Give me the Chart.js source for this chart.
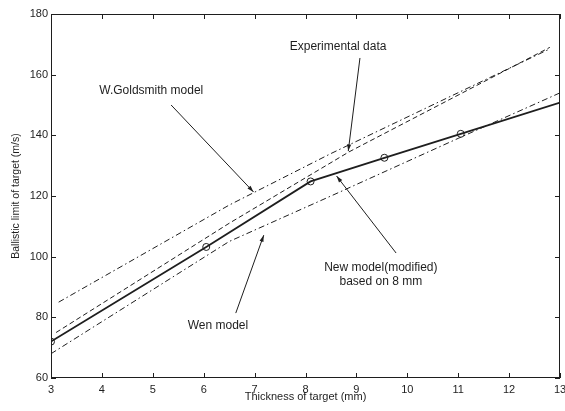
<!DOCTYPE html>
<html><head><meta charset="utf-8">
<script src="https://cdn.jsdelivr.net/npm/chart.js@4.4.0/dist/chart.umd.min.js"></script>
<style>html,body{margin:0;padding:0;background:#fff;}canvas{display:block}</style>
</head><body>
<canvas id="c" width="565" height="411"></canvas>
<script>
// ---- data ----
const xTickValues = [3, 4, 5, 6, 7, 8, 9, 10, 11, 12, 13];
const yTickValues = [60, 80, 100, 120, 140, 160, 180];
const newModelX = [3, 6.05, 8.1, 9.55, 11.05, 13];
const newModelY = [72, 103.2, 124.8, 132.6, 140.5, 150.8];
const newModelMarked = [true, true, true, true, true, false];
const experimentalX = [3.1, 6.5, 8.85, 12.8];
const experimentalY = [75, 111, 134.5, 169];
const goldsmithX = [3.15, 6.5, 8.5, 12.8];
const goldsmithY = [85, 117, 134, 168.5];
const wenX = [3, 6.5, 8.5, 11, 13];
const wenY = [68, 105, 120, 139, 154];
const xTitle = 'Thickness of target (mm)';
const yTitle = 'Ballistic limit of target (m/s)';

const pts = (xs, ys) => xs.map((x, i) => ({x: x, y: ys[i]}));
const INK = '#1e1e1e';
const FONT = '"Liberation Sans", Arial, sans-serif';

// annotations (text + arrows), positioned in data units
const notes = [
  {text: ['Experimental data'], at: [8.64, 169.1], arrow: [[9.07, 165.5], [8.84, 134.8]]},
  {text: ['W.Goldsmith model'], at: [4.97, 154.6], arrow: [[5.36, 150], [6.98, 121.3]]},
  {text: ['New model(modified)', 'based on 8 mm'], at: [9.48, 96.3], arrow: [[9.78, 101.2], [8.61, 126.6]]},
  {text: ['Wen model'], at: [6.28, 77.2], arrow: [[6.63, 81.4], [7.18, 107.1]]}
];

const framePlugin = {
  id: 'frame',
  afterDatasetsDraw(chart) {
    const {ctx, chartArea: a, scales: {x, y}} = chart;
    ctx.save();
    ctx.strokeStyle = INK;
    ctx.lineWidth = 1;
    ctx.strokeRect(Math.round(a.left) + 0.5, Math.round(a.top) + 0.5, Math.round(a.right - a.left) - 1, Math.round(a.bottom - a.top) - 1);
    const L = 5;
    ctx.beginPath();
    xTickValues.forEach(v => {
      const px = Math.round(x.getPixelForValue(v)) + 0.5;
      ctx.moveTo(px, a.bottom); ctx.lineTo(px, a.bottom - L);
      ctx.moveTo(px, a.top); ctx.lineTo(px, a.top + L);
    });
    yTickValues.forEach(v => {
      const py = Math.round(y.getPixelForValue(v)) + 0.5;
      ctx.moveTo(a.left, py); ctx.lineTo(a.left + L, py);
      ctx.moveTo(a.right, py); ctx.lineTo(a.right - L, py);
    });
    ctx.stroke();
    // annotations
    ctx.fillStyle = INK;
    ctx.font = '12px ' + FONT;
    ctx.textAlign = 'center';
    ctx.textBaseline = 'middle';
    notes.forEach(n => {
      const cx = x.getPixelForValue(n.at[0]);
      const cy = y.getPixelForValue(n.at[1]);
      n.text.forEach((t, i) => ctx.fillText(t, cx, cy + i * 13.5));
      const x0 = x.getPixelForValue(n.arrow[0][0]), y0 = y.getPixelForValue(n.arrow[0][1]);
      const x1 = x.getPixelForValue(n.arrow[1][0]), y1 = y.getPixelForValue(n.arrow[1][1]);
      ctx.beginPath(); ctx.moveTo(x0, y0); ctx.lineTo(x1, y1); ctx.stroke();
      const ang = Math.atan2(y1 - y0, x1 - x0), h = 7, w = 0.3;
      ctx.beginPath();
      ctx.moveTo(x1, y1);
      ctx.lineTo(x1 - h * Math.cos(ang - w), y1 - h * Math.sin(ang - w));
      ctx.lineTo(x1 - h * Math.cos(ang + w), y1 - h * Math.sin(ang + w));
      ctx.closePath(); ctx.fill();
    });
    ctx.restore();
  }
};

const lineDs = (label, data, dash, width) => ({
  label, data, borderColor: INK, borderWidth: width, borderDash: dash,
  pointRadius: 0, fill: false, tension: 0
});

new Chart(document.getElementById('c'), {
  type: 'line',
  data: {
    datasets: [
      lineDs('W.Goldsmith model', pts(goldsmithX, goldsmithY), [6, 3, 1.5, 3], 1),
      lineDs('Experimental data', pts(experimentalX, experimentalY), [5, 3], 1),
      lineDs('Wen model', pts(wenX, wenY), [6, 3, 1.5, 3], 1),
      {
        label: 'New model(modified)', data: pts(newModelX, newModelY),
        borderColor: INK, borderWidth: 1.8, tension: 0, fill: false,
        pointStyle: 'circle', pointRadius: newModelMarked.map(m => m ? 3.5 : 0),
        pointBorderColor: INK, pointBorderWidth: 1, pointBackgroundColor: 'rgba(0,0,0,0)'
      }
    ]
  },
  options: {
    responsive: false, animation: false, devicePixelRatio: 1,
    layout: {padding: {top: 14, right: 1, left: 0, bottom: 0}},
    plugins: {legend: {display: false}, tooltip: {enabled: false}},
    scales: {
      x: {
        type: 'linear', min: 3, max: 13,
        afterFit: s => { s.height = 33; s.paddingLeft = 0; s.paddingRight = 0; },
        afterBuildTicks: s => { s.ticks = xTickValues.map(v => ({value: v})); },
        grid: {display: false, drawTicks: false}, border: {display: false},
        ticks: {color: INK, font: {family: FONT, size: 11}, padding: 5, maxRotation: 0, autoSkip: false},
        title: {display: true, text: xTitle, color: INK, font: {family: FONT, size: 11}, padding: {top: 0, bottom: 7}}
      },
      y: {
        type: 'linear', min: 60, max: 180,
        afterFit: s => { s.width = 51; s.paddingTop = 0; s.paddingBottom = 0; },
        afterBuildTicks: s => { s.ticks = yTickValues.map(v => ({value: v})); },
        grid: {display: false, drawTicks: false}, border: {display: false},
        ticks: {color: INK, font: {family: FONT, size: 11}, padding: 3},
        title: {display: true, text: yTitle, color: INK, font: {family: FONT, size: 10.5}, padding: {top: 10, bottom: 0}}
      }
    }
  },
  plugins: [framePlugin]
});
</script>
</body></html>
